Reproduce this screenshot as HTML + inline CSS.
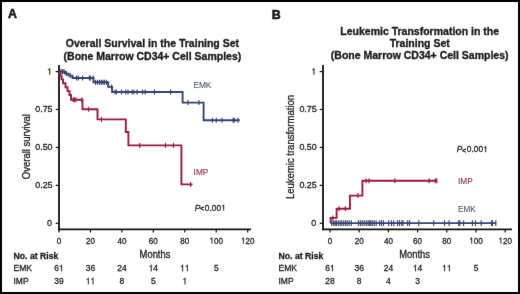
<!DOCTYPE html>
<html><head><meta charset="utf-8"><style>
html,body{margin:0;padding:0;background:#fff;}
body{width:520px;height:294px;overflow:hidden;}
svg{display:block;}
text{font-family:"Liberation Sans",sans-serif;fill:#1a1a1a;stroke:#1a1a1a;stroke-width:0.28px;}
.tk{font-size:8.6px;}
.tky{font-size:8.95px;}
.lb{font-size:9.5px;}
.pv{font-size:8.4px;}
.ax{font-size:10px;}
.tt{font-size:10.5px;font-weight:bold;stroke-width:0.32px;}
.pl{font-size:12.4px;font-weight:bold;stroke-width:0.55px;}
.rb{font-size:9.4px;font-weight:bold;}
.rk{font-size:9.4px;}
</style></head><body>
<svg width="520" height="294" viewBox="0 0 520 294">
<defs><path id="one" d="M0.259,-0.505 L0.102,-0.505 L0.102,-0.568 Q0.204,-0.581 0.235,-0.604 Q0.266,-0.627 0.289,-0.709 L0.347,-0.709 L0.347,0 L0.259,0 Z" fill="#1a1a1a" stroke="#1a1a1a"/><filter id="sf" x="0" y="0" width="520" height="294" filterUnits="userSpaceOnUse" color-interpolation-filters="sRGB"><feConvolveMatrix order="3" kernelMatrix="0.00276 0.04704 0.00276 0.04704 0.80077 0.04704 0.00276 0.04704 0.00276" divisor="1" edgeMode="none"/></filter></defs>
<rect x="0" y="0" width="520" height="294" fill="#fff"/>
<g filter="url(#sf)">
<rect x="0" y="0" width="520" height="294" fill="#fff"/>
<line x1="59" y1="65" x2="59" y2="230.2" stroke="#111" stroke-width="1.8"/>
<line x1="55.7" y1="71.6" x2="59" y2="71.6" stroke="#111" stroke-width="1.2"/>
<g transform="translate(52.00,74.55) scale(1.0,1)"><use href="#one" transform="translate(-4.98,0) scale(8.95)" style="stroke-width:0.0246"/></g>
<line x1="55.7" y1="109.5" x2="59" y2="109.5" stroke="#111" stroke-width="1.2"/>
<g transform="translate(52.60,112.15) scale(1.0,1)"><text x="-17.42" y="0" style="font-size:8.95px">0.75</text></g>
<line x1="55.7" y1="147.45" x2="59" y2="147.45" stroke="#111" stroke-width="1.2"/>
<g transform="translate(52.60,150.10) scale(1.0,1)"><text x="-17.42" y="0" style="font-size:8.95px">0.50</text></g>
<line x1="55.7" y1="185.4" x2="59" y2="185.4" stroke="#111" stroke-width="1.2"/>
<g transform="translate(52.60,188.05) scale(1.0,1)"><text x="-17.42" y="0" style="font-size:8.95px">0.25</text></g>
<line x1="55.7" y1="223.3" x2="59" y2="223.3" stroke="#111" stroke-width="1.2"/>
<g transform="translate(52.00,225.95) scale(1.0,1)"><text x="-4.98" y="0" style="font-size:8.95px">0</text></g>
<line x1="58.1" y1="229.3" x2="251" y2="229.3" stroke="#111" stroke-width="1.8"/>
<line x1="59.0" y1="229.3" x2="59.0" y2="232.5" stroke="#111" stroke-width="1.2"/>
<g transform="translate(59.00,243.50) scale(0.94,1)"><text x="-2.39" y="0" style="font-size:8.6px">0</text></g>
<line x1="90.45" y1="229.3" x2="90.45" y2="232.5" stroke="#111" stroke-width="1.2"/>
<g transform="translate(90.45,243.50) scale(0.94,1)"><text x="-4.78" y="0" style="font-size:8.6px">20</text></g>
<line x1="121.9" y1="229.3" x2="121.9" y2="232.5" stroke="#111" stroke-width="1.2"/>
<g transform="translate(121.90,243.50) scale(0.94,1)"><text x="-4.78" y="0" style="font-size:8.6px">40</text></g>
<line x1="153.35" y1="229.3" x2="153.35" y2="232.5" stroke="#111" stroke-width="1.2"/>
<g transform="translate(153.35,243.50) scale(0.94,1)"><text x="-4.78" y="0" style="font-size:8.6px">60</text></g>
<line x1="184.8" y1="229.3" x2="184.8" y2="232.5" stroke="#111" stroke-width="1.2"/>
<g transform="translate(184.80,243.50) scale(0.94,1)"><text x="-4.78" y="0" style="font-size:8.6px">80</text></g>
<line x1="216.25" y1="229.3" x2="216.25" y2="232.5" stroke="#111" stroke-width="1.2"/>
<g transform="translate(216.25,243.50) scale(0.94,1)"><use href="#one" transform="translate(-7.17,0) scale(8.6)" style="stroke-width:0.0256"/><text x="-2.39" y="0" style="font-size:8.6px">00</text></g>
<line x1="247.7" y1="229.3" x2="247.7" y2="232.5" stroke="#111" stroke-width="1.2"/>
<g transform="translate(247.70,243.50) scale(0.94,1)"><use href="#one" transform="translate(-7.17,0) scale(8.6)" style="stroke-width:0.0256"/><text x="-2.39" y="0" style="font-size:8.6px">20</text></g>
<path d="M59,71.6 H65 V73.6 H68.5 V75.6 H72.5 V78 H93.5 V82.3 H108.2 V86.9 H112.1 V92 H182.6 V102.6 H203.6 V120.3 H239.8" fill="none" stroke="#34446f" stroke-width="1.9"/>
<line x1="61" y1="69.1" x2="61" y2="74.1" stroke="#34446f" stroke-width="1.15"/>
<line x1="62.5" y1="69.1" x2="62.5" y2="74.1" stroke="#34446f" stroke-width="1.15"/>
<line x1="64" y1="69.1" x2="64" y2="74.1" stroke="#34446f" stroke-width="1.15"/>
<line x1="66.5" y1="71.1" x2="66.5" y2="76.1" stroke="#34446f" stroke-width="1.15"/>
<line x1="70.2" y1="73.1" x2="70.2" y2="78.1" stroke="#34446f" stroke-width="1.15"/>
<line x1="76.5" y1="75.5" x2="76.5" y2="80.5" stroke="#34446f" stroke-width="1.15"/>
<line x1="78.3" y1="75.5" x2="78.3" y2="80.5" stroke="#34446f" stroke-width="1.15"/>
<line x1="82.6" y1="75.5" x2="82.6" y2="80.5" stroke="#34446f" stroke-width="1.15"/>
<line x1="89.4" y1="75.5" x2="89.4" y2="80.5" stroke="#34446f" stroke-width="1.15"/>
<line x1="90.4" y1="75.5" x2="90.4" y2="80.5" stroke="#34446f" stroke-width="1.15"/>
<line x1="93.3" y1="75.5" x2="93.3" y2="80.5" stroke="#34446f" stroke-width="1.15"/>
<line x1="95.5" y1="79.8" x2="95.5" y2="84.8" stroke="#34446f" stroke-width="1.15"/>
<line x1="97.6" y1="79.8" x2="97.6" y2="84.8" stroke="#34446f" stroke-width="1.15"/>
<line x1="99.6" y1="79.8" x2="99.6" y2="84.8" stroke="#34446f" stroke-width="1.15"/>
<line x1="101.3" y1="79.8" x2="101.3" y2="84.8" stroke="#34446f" stroke-width="1.15"/>
<line x1="103" y1="79.8" x2="103" y2="84.8" stroke="#34446f" stroke-width="1.15"/>
<line x1="104.4" y1="79.8" x2="104.4" y2="84.8" stroke="#34446f" stroke-width="1.15"/>
<line x1="106.4" y1="79.8" x2="106.4" y2="84.8" stroke="#34446f" stroke-width="1.15"/>
<line x1="111.6" y1="84.4" x2="111.6" y2="89.4" stroke="#34446f" stroke-width="1.15"/>
<line x1="115" y1="89.5" x2="115" y2="94.5" stroke="#34446f" stroke-width="1.15"/>
<line x1="116.2" y1="89.5" x2="116.2" y2="94.5" stroke="#34446f" stroke-width="1.15"/>
<line x1="121.5" y1="89.5" x2="121.5" y2="94.5" stroke="#34446f" stroke-width="1.15"/>
<line x1="125.8" y1="89.5" x2="125.8" y2="94.5" stroke="#34446f" stroke-width="1.15"/>
<line x1="128.1" y1="89.5" x2="128.1" y2="94.5" stroke="#34446f" stroke-width="1.15"/>
<line x1="132" y1="89.5" x2="132" y2="94.5" stroke="#34446f" stroke-width="1.15"/>
<line x1="133.8" y1="89.5" x2="133.8" y2="94.5" stroke="#34446f" stroke-width="1.15"/>
<line x1="137" y1="89.5" x2="137" y2="94.5" stroke="#34446f" stroke-width="1.15"/>
<line x1="142.5" y1="89.5" x2="142.5" y2="94.5" stroke="#34446f" stroke-width="1.15"/>
<line x1="145.2" y1="89.5" x2="145.2" y2="94.5" stroke="#34446f" stroke-width="1.15"/>
<line x1="154.5" y1="89.5" x2="154.5" y2="94.5" stroke="#34446f" stroke-width="1.15"/>
<line x1="170.6" y1="89.5" x2="170.6" y2="94.5" stroke="#34446f" stroke-width="1.15"/>
<line x1="187.9" y1="100.1" x2="187.9" y2="105.1" stroke="#34446f" stroke-width="1.15"/>
<line x1="198.9" y1="100.1" x2="198.9" y2="105.1" stroke="#34446f" stroke-width="1.15"/>
<line x1="212.4" y1="117.8" x2="212.4" y2="122.8" stroke="#34446f" stroke-width="1.15"/>
<line x1="216.3" y1="117.8" x2="216.3" y2="122.8" stroke="#34446f" stroke-width="1.15"/>
<line x1="222" y1="117.8" x2="222" y2="122.8" stroke="#34446f" stroke-width="1.15"/>
<line x1="233.1" y1="117.8" x2="233.1" y2="122.8" stroke="#34446f" stroke-width="1.15"/>
<line x1="234.3" y1="117.8" x2="234.3" y2="122.8" stroke="#34446f" stroke-width="1.15"/>
<line x1="237.9" y1="117.8" x2="237.9" y2="122.8" stroke="#34446f" stroke-width="1.15"/>
<path d="M59,71.6 H60 V75.5 H61.5 V79.4 H63 V83.3 H65.5 V87.2 H67.5 V91.1 H69.5 V95 H71 V99.7 H82.5 V109.3 H97.5 V119.4 H125.8 V132 H128.4 V145.4 H181.4 V184.4 H192.5" fill="none" stroke="#9c1a3e" stroke-width="1.9"/>
<line x1="73.2" y1="97.2" x2="73.2" y2="102.2" stroke="#9c1a3e" stroke-width="1.15"/>
<line x1="74.4" y1="97.2" x2="74.4" y2="102.2" stroke="#9c1a3e" stroke-width="1.15"/>
<line x1="75.9" y1="97.2" x2="75.9" y2="102.2" stroke="#9c1a3e" stroke-width="1.15"/>
<line x1="81.9" y1="97.2" x2="81.9" y2="102.2" stroke="#9c1a3e" stroke-width="1.15"/>
<line x1="88.6" y1="106.8" x2="88.6" y2="111.8" stroke="#9c1a3e" stroke-width="1.15"/>
<line x1="101.5" y1="116.9" x2="101.5" y2="121.9" stroke="#9c1a3e" stroke-width="1.15"/>
<line x1="139.7" y1="142.9" x2="139.7" y2="147.9" stroke="#9c1a3e" stroke-width="1.15"/>
<line x1="165.5" y1="142.9" x2="165.5" y2="147.9" stroke="#9c1a3e" stroke-width="1.15"/>
<line x1="173.5" y1="142.9" x2="173.5" y2="147.9" stroke="#9c1a3e" stroke-width="1.15"/>
<line x1="190.6" y1="181.9" x2="190.6" y2="186.9" stroke="#9c1a3e" stroke-width="1.15"/>
<text transform="translate(193.40,87.90) scale(0.875,1)" class="lb" style="fill:#465376;stroke:#465376;stroke-width:0.1px">EMK</text>
<text transform="translate(193.60,175.00) scale(0.87,1)" class="lb" style="fill:#952444;stroke:#952444;stroke-width:0.1px">IMP</text>
<text x="194.8" y="210.6" class="pv"><tspan font-style="italic">P</tspan><tspan font-size="6.5px" dx="-0.2" dy="0.5" style="stroke-width:0.5px">&lt;</tspan></text>
<g transform="translate(204.80,210.60) scale(1.0,1)"><text x="0.00" y="0" style="font-size:8.4px">0.00</text><use href="#one" transform="translate(16.35,0) scale(8.4)" style="stroke-width:0.0262"/></g>
<line x1="323" y1="65" x2="323" y2="230.2" stroke="#111" stroke-width="1.8"/>
<line x1="319.7" y1="71.6" x2="323" y2="71.6" stroke="#111" stroke-width="1.2"/>
<g transform="translate(316.20,74.55) scale(1.0,1)"><use href="#one" transform="translate(-4.98,0) scale(8.95)" style="stroke-width:0.0246"/></g>
<line x1="319.7" y1="109.5" x2="323" y2="109.5" stroke="#111" stroke-width="1.2"/>
<g transform="translate(316.80,112.15) scale(1.0,1)"><text x="-17.42" y="0" style="font-size:8.95px">0.75</text></g>
<line x1="319.7" y1="147.45" x2="323" y2="147.45" stroke="#111" stroke-width="1.2"/>
<g transform="translate(316.80,150.10) scale(1.0,1)"><text x="-17.42" y="0" style="font-size:8.95px">0.50</text></g>
<line x1="319.7" y1="185.4" x2="323" y2="185.4" stroke="#111" stroke-width="1.2"/>
<g transform="translate(316.80,188.05) scale(1.0,1)"><text x="-17.42" y="0" style="font-size:8.95px">0.25</text></g>
<line x1="319.7" y1="223.3" x2="323" y2="223.3" stroke="#111" stroke-width="1.2"/>
<g transform="translate(316.20,225.95) scale(1.0,1)"><text x="-4.98" y="0" style="font-size:8.95px">0</text></g>
<line x1="322.1" y1="229.3" x2="512" y2="229.3" stroke="#111" stroke-width="1.8"/>
<line x1="330.0" y1="229.3" x2="330.0" y2="232.5" stroke="#111" stroke-width="1.2"/>
<g transform="translate(330.00,243.50) scale(0.94,1)"><text x="-2.39" y="0" style="font-size:8.6px">0</text></g>
<line x1="359.2" y1="229.3" x2="359.2" y2="232.5" stroke="#111" stroke-width="1.2"/>
<g transform="translate(359.20,243.50) scale(0.94,1)"><text x="-4.78" y="0" style="font-size:8.6px">20</text></g>
<line x1="388.4" y1="229.3" x2="388.4" y2="232.5" stroke="#111" stroke-width="1.2"/>
<g transform="translate(388.40,243.50) scale(0.94,1)"><text x="-4.78" y="0" style="font-size:8.6px">40</text></g>
<line x1="417.6" y1="229.3" x2="417.6" y2="232.5" stroke="#111" stroke-width="1.2"/>
<g transform="translate(417.60,243.50) scale(0.94,1)"><text x="-4.78" y="0" style="font-size:8.6px">60</text></g>
<line x1="446.8" y1="229.3" x2="446.8" y2="232.5" stroke="#111" stroke-width="1.2"/>
<g transform="translate(446.80,243.50) scale(0.94,1)"><text x="-4.78" y="0" style="font-size:8.6px">80</text></g>
<line x1="476.0" y1="229.3" x2="476.0" y2="232.5" stroke="#111" stroke-width="1.2"/>
<g transform="translate(476.00,243.50) scale(0.94,1)"><use href="#one" transform="translate(-7.17,0) scale(8.6)" style="stroke-width:0.0256"/><text x="-2.39" y="0" style="font-size:8.6px">00</text></g>
<line x1="505.2" y1="229.3" x2="505.2" y2="232.5" stroke="#111" stroke-width="1.2"/>
<g transform="translate(505.20,243.50) scale(0.94,1)"><use href="#one" transform="translate(-7.17,0) scale(8.6)" style="stroke-width:0.0256"/><text x="-2.39" y="0" style="font-size:8.6px">20</text></g>
<path d="M330.6,223.3 V217.9 H336.6 V208.8 H349.9 V195.6 H362.4 V180.8 H437" fill="none" stroke="#9c1a3e" stroke-width="1.9"/>
<line x1="332.8" y1="215.4" x2="332.8" y2="220.4" stroke="#9c1a3e" stroke-width="1.15"/>
<line x1="339.1" y1="206.3" x2="339.1" y2="211.3" stroke="#9c1a3e" stroke-width="1.15"/>
<line x1="345.4" y1="206.3" x2="345.4" y2="211.3" stroke="#9c1a3e" stroke-width="1.15"/>
<line x1="358" y1="193.1" x2="358" y2="198.1" stroke="#9c1a3e" stroke-width="1.15"/>
<line x1="366" y1="178.3" x2="366" y2="183.3" stroke="#9c1a3e" stroke-width="1.15"/>
<line x1="369" y1="178.3" x2="369" y2="183.3" stroke="#9c1a3e" stroke-width="1.15"/>
<line x1="394.8" y1="178.3" x2="394.8" y2="183.3" stroke="#9c1a3e" stroke-width="1.15"/>
<line x1="429.1" y1="178.3" x2="429.1" y2="183.3" stroke="#9c1a3e" stroke-width="1.15"/>
<line x1="435.3" y1="178.3" x2="435.3" y2="183.3" stroke="#9c1a3e" stroke-width="1.15"/>
<line x1="436.9" y1="178.3" x2="436.9" y2="183.3" stroke="#9c1a3e" stroke-width="1.15"/>
<path d="M330.6,223.1 H496.2" fill="none" stroke="#34446f" stroke-width="1.9"/>
<line x1="331.8" y1="220.2" x2="331.8" y2="226.0" stroke="#34446f" stroke-width="1.15"/>
<line x1="333.7" y1="220.2" x2="333.7" y2="226.0" stroke="#34446f" stroke-width="1.15"/>
<line x1="335.2" y1="220.2" x2="335.2" y2="226.0" stroke="#34446f" stroke-width="1.15"/>
<line x1="336.4" y1="220.2" x2="336.4" y2="226.0" stroke="#34446f" stroke-width="1.15"/>
<line x1="338.3" y1="220.2" x2="338.3" y2="226.0" stroke="#34446f" stroke-width="1.15"/>
<line x1="340.2" y1="220.2" x2="340.2" y2="226.0" stroke="#34446f" stroke-width="1.15"/>
<line x1="341.8" y1="220.2" x2="341.8" y2="226.0" stroke="#34446f" stroke-width="1.15"/>
<line x1="343.7" y1="220.2" x2="343.7" y2="226.0" stroke="#34446f" stroke-width="1.15"/>
<line x1="345.6" y1="220.2" x2="345.6" y2="226.0" stroke="#34446f" stroke-width="1.15"/>
<line x1="347.2" y1="220.2" x2="347.2" y2="226.0" stroke="#34446f" stroke-width="1.15"/>
<line x1="349.1" y1="220.2" x2="349.1" y2="226.0" stroke="#34446f" stroke-width="1.15"/>
<line x1="351.3" y1="220.2" x2="351.3" y2="226.0" stroke="#34446f" stroke-width="1.15"/>
<line x1="358.5" y1="220.2" x2="358.5" y2="226.0" stroke="#34446f" stroke-width="1.15"/>
<line x1="360.4" y1="220.2" x2="360.4" y2="226.0" stroke="#34446f" stroke-width="1.15"/>
<line x1="362.3" y1="220.2" x2="362.3" y2="226.0" stroke="#34446f" stroke-width="1.15"/>
<line x1="364.2" y1="220.2" x2="364.2" y2="226.0" stroke="#34446f" stroke-width="1.15"/>
<line x1="366.2" y1="220.2" x2="366.2" y2="226.0" stroke="#34446f" stroke-width="1.15"/>
<line x1="368.1" y1="220.2" x2="368.1" y2="226.0" stroke="#34446f" stroke-width="1.15"/>
<line x1="369.6" y1="220.2" x2="369.6" y2="226.0" stroke="#34446f" stroke-width="1.15"/>
<line x1="370.8" y1="220.2" x2="370.8" y2="226.0" stroke="#34446f" stroke-width="1.15"/>
<line x1="372.3" y1="220.2" x2="372.3" y2="226.0" stroke="#34446f" stroke-width="1.15"/>
<line x1="374.2" y1="220.2" x2="374.2" y2="226.0" stroke="#34446f" stroke-width="1.15"/>
<line x1="376.2" y1="220.2" x2="376.2" y2="226.0" stroke="#34446f" stroke-width="1.15"/>
<line x1="379.6" y1="220.2" x2="379.6" y2="226.0" stroke="#34446f" stroke-width="1.15"/>
<line x1="381.5" y1="220.2" x2="381.5" y2="226.0" stroke="#34446f" stroke-width="1.15"/>
<line x1="383.5" y1="220.2" x2="383.5" y2="226.0" stroke="#34446f" stroke-width="1.15"/>
<line x1="388.6" y1="220.2" x2="388.6" y2="226.0" stroke="#34446f" stroke-width="1.15"/>
<line x1="391.5" y1="220.2" x2="391.5" y2="226.0" stroke="#34446f" stroke-width="1.15"/>
<line x1="393.8" y1="220.2" x2="393.8" y2="226.0" stroke="#34446f" stroke-width="1.15"/>
<line x1="397.6" y1="220.2" x2="397.6" y2="226.0" stroke="#34446f" stroke-width="1.15"/>
<line x1="399.5" y1="220.2" x2="399.5" y2="226.0" stroke="#34446f" stroke-width="1.15"/>
<line x1="401.8" y1="220.2" x2="401.8" y2="226.0" stroke="#34446f" stroke-width="1.15"/>
<line x1="403" y1="220.2" x2="403" y2="226.0" stroke="#34446f" stroke-width="1.15"/>
<line x1="407.6" y1="220.2" x2="407.6" y2="226.0" stroke="#34446f" stroke-width="1.15"/>
<line x1="409.5" y1="220.2" x2="409.5" y2="226.0" stroke="#34446f" stroke-width="1.15"/>
<line x1="418.8" y1="220.2" x2="418.8" y2="226.0" stroke="#34446f" stroke-width="1.15"/>
<line x1="433.7" y1="220.2" x2="433.7" y2="226.0" stroke="#34446f" stroke-width="1.15"/>
<line x1="444.5" y1="220.2" x2="444.5" y2="226.0" stroke="#34446f" stroke-width="1.15"/>
<line x1="449.1" y1="220.2" x2="449.1" y2="226.0" stroke="#34446f" stroke-width="1.15"/>
<line x1="458.7" y1="220.2" x2="458.7" y2="226.0" stroke="#34446f" stroke-width="1.15"/>
<line x1="459.8" y1="220.2" x2="459.8" y2="226.0" stroke="#34446f" stroke-width="1.15"/>
<line x1="463.6" y1="220.2" x2="463.6" y2="226.0" stroke="#34446f" stroke-width="1.15"/>
<line x1="472.4" y1="220.2" x2="472.4" y2="226.0" stroke="#34446f" stroke-width="1.15"/>
<line x1="475.5" y1="220.2" x2="475.5" y2="226.0" stroke="#34446f" stroke-width="1.15"/>
<line x1="481.2" y1="220.2" x2="481.2" y2="226.0" stroke="#34446f" stroke-width="1.15"/>
<line x1="491.6" y1="220.2" x2="491.6" y2="226.0" stroke="#34446f" stroke-width="1.15"/>
<line x1="492.4" y1="220.2" x2="492.4" y2="226.0" stroke="#34446f" stroke-width="1.15"/>
<line x1="495.8" y1="220.2" x2="495.8" y2="226.0" stroke="#34446f" stroke-width="1.15"/>
<text transform="translate(458.00,184.30) scale(0.87,1)" class="lb" style="fill:#952444;stroke:#952444;stroke-width:0.1px">IMP</text>
<text transform="translate(458.00,211.90) scale(0.86,1)" class="lb" style="fill:#465376;stroke:#465376;stroke-width:0.1px">EMK</text>
<text x="456.8" y="152.1" class="pv"><tspan font-style="italic">P</tspan><tspan font-size="6.5px" dx="-0.2" dy="0.5" style="stroke-width:0.5px">&lt;</tspan></text>
<g transform="translate(466.80,152.10) scale(1.0,1)"><text x="0.00" y="0" style="font-size:8.4px">0.00</text><use href="#one" transform="translate(16.35,0) scale(8.4)" style="stroke-width:0.0262"/></g>
<text transform="translate(29.8,146.7) rotate(-90) scale(0.953,1)" text-anchor="middle" class="ax">Overall survival</text>
<text transform="translate(293.7,147) rotate(-90) scale(0.953,1)" text-anchor="middle" class="ax">Leukemic transformation</text>
<text transform="translate(155,258) scale(0.94,1)" text-anchor="middle" class="ax">Months</text>
<text transform="translate(414.6,258) scale(0.94,1)" text-anchor="middle" class="ax">Months</text>
<text x="152.4" y="47.1" text-anchor="middle" class="tt">Overall Survival in the Training Set</text>
<text x="152.4" y="59.7" text-anchor="middle" class="tt">(Bone Marrow CD34+ Cell Samples)</text>
<text x="419.7" y="35.0" text-anchor="middle" class="tt">Leukemic Transformation in the</text>
<text x="419.7" y="46.9" text-anchor="middle" class="tt">Training Set</text>
<text x="419.7" y="59.3" text-anchor="middle" class="tt">(Bone Marrow CD34+ Cell Samples)</text>
<text x="8.1" y="18.4" class="pl">A</text>
<text x="271.8" y="18.5" class="pl">B</text>
<text transform="translate(13.50,258.80) scale(0.925,1)" class="rb">No. at Risk</text>
<text transform="translate(13.50,271.30) scale(0.91,1)" class="rk">EMK</text>
<text transform="translate(13.50,284.30) scale(0.9,1)" class="rk">IMP</text>
<g transform="translate(59.00,271.30) scale(0.9,1)"><text x="-5.23" y="0" style="font-size:9.4px">6</text><use href="#one" transform="translate(0.00,0) scale(9.4)" style="stroke-width:0.0234"/></g>
<g transform="translate(90.45,271.30) scale(0.9,1)"><text x="-5.23" y="0" style="font-size:9.4px">36</text></g>
<g transform="translate(121.90,271.30) scale(0.9,1)"><text x="-5.23" y="0" style="font-size:9.4px">24</text></g>
<g transform="translate(153.35,271.30) scale(0.9,1)"><use href="#one" transform="translate(-5.23,0) scale(9.4)" style="stroke-width:0.0234"/><text x="0.00" y="0" style="font-size:9.4px">4</text></g>
<g transform="translate(184.80,271.30) scale(0.9,1)"><use href="#one" transform="translate(-5.23,0) scale(9.4)" style="stroke-width:0.0234"/><use href="#one" transform="translate(0.00,0) scale(9.4)" style="stroke-width:0.0234"/></g>
<g transform="translate(216.25,271.30) scale(0.9,1)"><text x="-2.61" y="0" style="font-size:9.4px">5</text></g>
<g transform="translate(59.00,284.30) scale(0.9,1)"><text x="-5.23" y="0" style="font-size:9.4px">39</text></g>
<g transform="translate(90.45,284.30) scale(0.9,1)"><use href="#one" transform="translate(-5.23,0) scale(9.4)" style="stroke-width:0.0234"/><use href="#one" transform="translate(0.00,0) scale(9.4)" style="stroke-width:0.0234"/></g>
<g transform="translate(121.90,284.30) scale(0.9,1)"><text x="-2.61" y="0" style="font-size:9.4px">8</text></g>
<g transform="translate(153.35,284.30) scale(0.9,1)"><text x="-2.61" y="0" style="font-size:9.4px">5</text></g>
<g transform="translate(184.80,284.30) scale(0.9,1)"><use href="#one" transform="translate(-2.61,0) scale(9.4)" style="stroke-width:0.0234"/></g>
<text transform="translate(278.50,258.80) scale(0.925,1)" class="rb">No. at Risk</text>
<text transform="translate(278.50,271.30) scale(0.91,1)" class="rk">EMK</text>
<text transform="translate(278.50,284.30) scale(0.9,1)" class="rk">IMP</text>
<g transform="translate(330.00,271.30) scale(0.9,1)"><text x="-5.23" y="0" style="font-size:9.4px">6</text><use href="#one" transform="translate(0.00,0) scale(9.4)" style="stroke-width:0.0234"/></g>
<g transform="translate(359.20,271.30) scale(0.9,1)"><text x="-5.23" y="0" style="font-size:9.4px">36</text></g>
<g transform="translate(388.40,271.30) scale(0.9,1)"><text x="-5.23" y="0" style="font-size:9.4px">24</text></g>
<g transform="translate(417.60,271.30) scale(0.9,1)"><use href="#one" transform="translate(-5.23,0) scale(9.4)" style="stroke-width:0.0234"/><text x="0.00" y="0" style="font-size:9.4px">4</text></g>
<g transform="translate(446.80,271.30) scale(0.9,1)"><use href="#one" transform="translate(-5.23,0) scale(9.4)" style="stroke-width:0.0234"/><use href="#one" transform="translate(0.00,0) scale(9.4)" style="stroke-width:0.0234"/></g>
<g transform="translate(476.00,271.30) scale(0.9,1)"><text x="-2.61" y="0" style="font-size:9.4px">5</text></g>
<g transform="translate(330.00,284.30) scale(0.9,1)"><text x="-5.23" y="0" style="font-size:9.4px">28</text></g>
<g transform="translate(359.20,284.30) scale(0.9,1)"><text x="-2.61" y="0" style="font-size:9.4px">8</text></g>
<g transform="translate(388.40,284.30) scale(0.9,1)"><text x="-2.61" y="0" style="font-size:9.4px">4</text></g>
<g transform="translate(417.60,284.30) scale(0.9,1)"><text x="-2.61" y="0" style="font-size:9.4px">3</text></g>
<rect x="1" y="1" width="518" height="292" fill="none" stroke="#000" stroke-width="2"/>
</g>
<rect x="0.5" y="0.5" width="519" height="293" fill="none" stroke="#000" stroke-width="1"/>
</svg>
</body></html>
